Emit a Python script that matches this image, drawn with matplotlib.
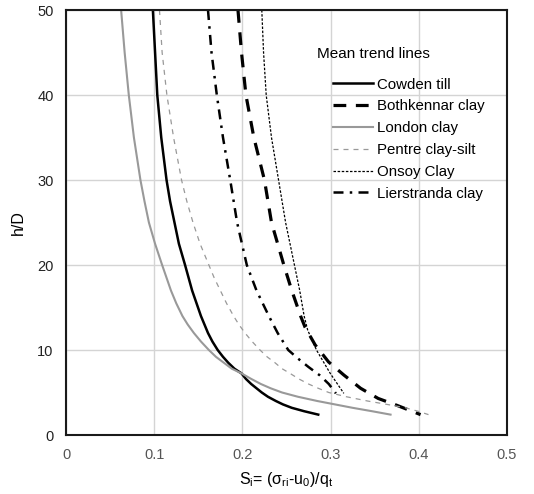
"""
Mean trend lines of normalised radial stress against height above pile tip
"""
import matplotlib
matplotlib.use('Agg')
import matplotlib.pyplot as plt

# mean trend line values, read as (S_i, h/D) pairs for each soil
cowden_x = [0.0985, 0.101, 0.1035, 0.108, 0.114, 0.118, 0.123, 0.128, 0.135, 0.139,
            0.143, 0.148, 0.153, 0.157, 0.161, 0.166, 0.172, 0.178, 0.184, 0.191,
            0.199, 0.204, 0.21, 0.216, 0.222, 0.229, 0.238, 0.246, 0.256, 0.27, 0.286]
cowden_y = [50, 45, 40, 35, 30, 27.5, 25, 22.5, 20, 18.5,
            17, 15.5, 14, 13, 12, 11, 10, 9.2, 8.5, 7.8,
            7.25, 6.6, 6, 5.5, 5, 4.5, 4, 3.6, 3.2, 2.8, 2.4]

bothkennar_x = [0.195, 0.199, 0.204, 0.213, 0.225, 0.233, 0.247, 0.256, 0.266, 0.271,
                0.2825, 0.2977, 0.315, 0.334, 0.354, 0.375, 0.402]
bothkennar_y = [50, 45, 40, 35, 30, 25, 20, 17, 14, 12.7, 10.6, 8.6, 7.06, 5.5, 4.3, 3.5, 2.4]

london_x = [0.0625, 0.0665, 0.0712, 0.077, 0.0844, 0.089, 0.094, 0.101, 0.109, 0.114,
            0.119, 0.125, 0.132, 0.138, 0.145, 0.153, 0.162, 0.17, 0.179, 0.188,
            0.199, 0.21, 0.221, 0.232, 0.245, 0.263, 0.285, 0.305, 0.325, 0.347, 0.368]
london_y = [50, 45, 40, 35, 30, 27.5, 25, 22.5, 20, 18.5,
            17, 15.5, 14, 13, 12, 11, 10, 9.2, 8.5, 7.8,
            7.25, 6.6, 6, 5.5, 5, 4.5, 4, 3.6, 3.2, 2.8, 2.4]

pentre_x = [0.106, 0.109, 0.1144, 0.122, 0.131, 0.137, 0.144, 0.152, 0.162, 0.168,
            0.175, 0.182, 0.19, 0.196, 0.203, 0.211, 0.22, 0.228, 0.237, 0.245,
            0.254, 0.264, 0.275, 0.286, 0.298, 0.318, 0.342, 0.364, 0.385, 0.399, 0.411]
pentre_y = [50, 45, 40, 35, 30, 27.5, 25, 22.5, 20, 18.5,
            17, 15.5, 14, 13, 12, 11, 10, 9.2, 8.5, 7.8,
            7.25, 6.6, 6, 5.5, 5, 4.5, 4, 3.6, 3.2, 2.8, 2.4]

onsoy_x = [0.222, 0.224, 0.227, 0.233, 0.241, 0.249, 0.259, 0.265, 0.27, 0.274,
           0.284, 0.2996, 0.315]
onsoy_y = [50, 45, 40, 35, 30, 25, 20, 17, 14, 12.35, 10, 7.25, 4.9]

lierstranda_x = [0.161, 0.165, 0.171, 0.178, 0.1862, 0.194, 0.205, 0.216, 0.23, 0.24,
                 0.252, 0.263, 0.275, 0.288, 0.298, 0.306]
lierstranda_y = [50, 45, 40, 35, 30, 25, 20, 17, 14, 12, 10, 9, 8, 7, 6, 4.9]

x_ticks = [0, 0.1, 0.2, 0.3, 0.4, 0.5]
x_tick_labels = ['0', '0.1', '0.2', '0.3', '0.4', '0.5']
y_ticks = [0, 10, 20, 30, 40, 50]


def main():
    """
    draws the six trend lines with legend and saves to out.png
    :return: none
    """
    plt.rcParams['font.family'] = ['Liberation Sans', 'DejaVu Sans']
    fig = plt.figure(figsize=(5.34, 4.94), dpi=100)
    ax = fig.add_axes([0.1236, 0.1194, 0.8258, 0.8603])

    ax.plot(cowden_x, cowden_y, color='black', lw=1.8, label='Cowden till')
    ax.plot(bothkennar_x, bothkennar_y, color='black', lw=2.3, dashes=(4, 3),
            label='Bothkennar clay')
    ax.plot(london_x, london_y, color='#999999', lw=1.5, label='London clay')
    ax.plot(pentre_x, pentre_y, color='#999999', lw=0.9, dashes=(4, 4),
            label='Pentre clay-silt')
    ax.plot(onsoy_x, onsoy_y, color='black', lw=0.9, dashes=(2, 1.3),
            label='Onsoy Clay')
    ax.plot(lierstranda_x, lierstranda_y, color='black', lw=1.8, dashes=(4, 2.5, 1, 2.5),
            label='Lierstranda clay')

    ax.set_xlim(0, 0.5)
    ax.set_ylim(0, 50)
    ax.set_xticks(x_ticks)
    ax.set_xticklabels(x_tick_labels)
    ax.set_yticks(y_ticks)
    ax.grid(True, color='#d4d4d4', lw=1.0)
    ax.set_axisbelow(True)
    ax.tick_params(axis='both', length=0, pad=9, labelsize=10.5)
    ax.tick_params(axis='x', labelcolor='#555555')
    ax.tick_params(axis='y', labelcolor='#222222')
    for spine in ax.spines.values():
        spine.set_linewidth(1.5)
        spine.set_color('#1a1a1a')

    ax.set_ylabel('h/D', fontsize=11.5, labelpad=8)
    ax.set_xlabel(r'S$_\mathregular{i}$= ($\mathregular{\sigma}$$_\mathregular{ri}$-u$_\mathregular{0}$)/q$_\mathregular{t}$',
                  fontsize=11.5, labelpad=6)

    # legend heading sits a little left of the entries
    ax.text(0.569, 0.896, 'Mean trend lines', transform=ax.transAxes,
            fontsize=11, ha='left', va='center')
    ax.legend(loc='upper left', bbox_to_anchor=(0.605, 0.841), frameon=False,
              fontsize=10.8, borderpad=0, borderaxespad=0, handlelength=2.67,
              handletextpad=0.3, labelspacing=0.52)

    fig.savefig('out.png', dpi=100)


if __name__ == '__main__':
    main()
